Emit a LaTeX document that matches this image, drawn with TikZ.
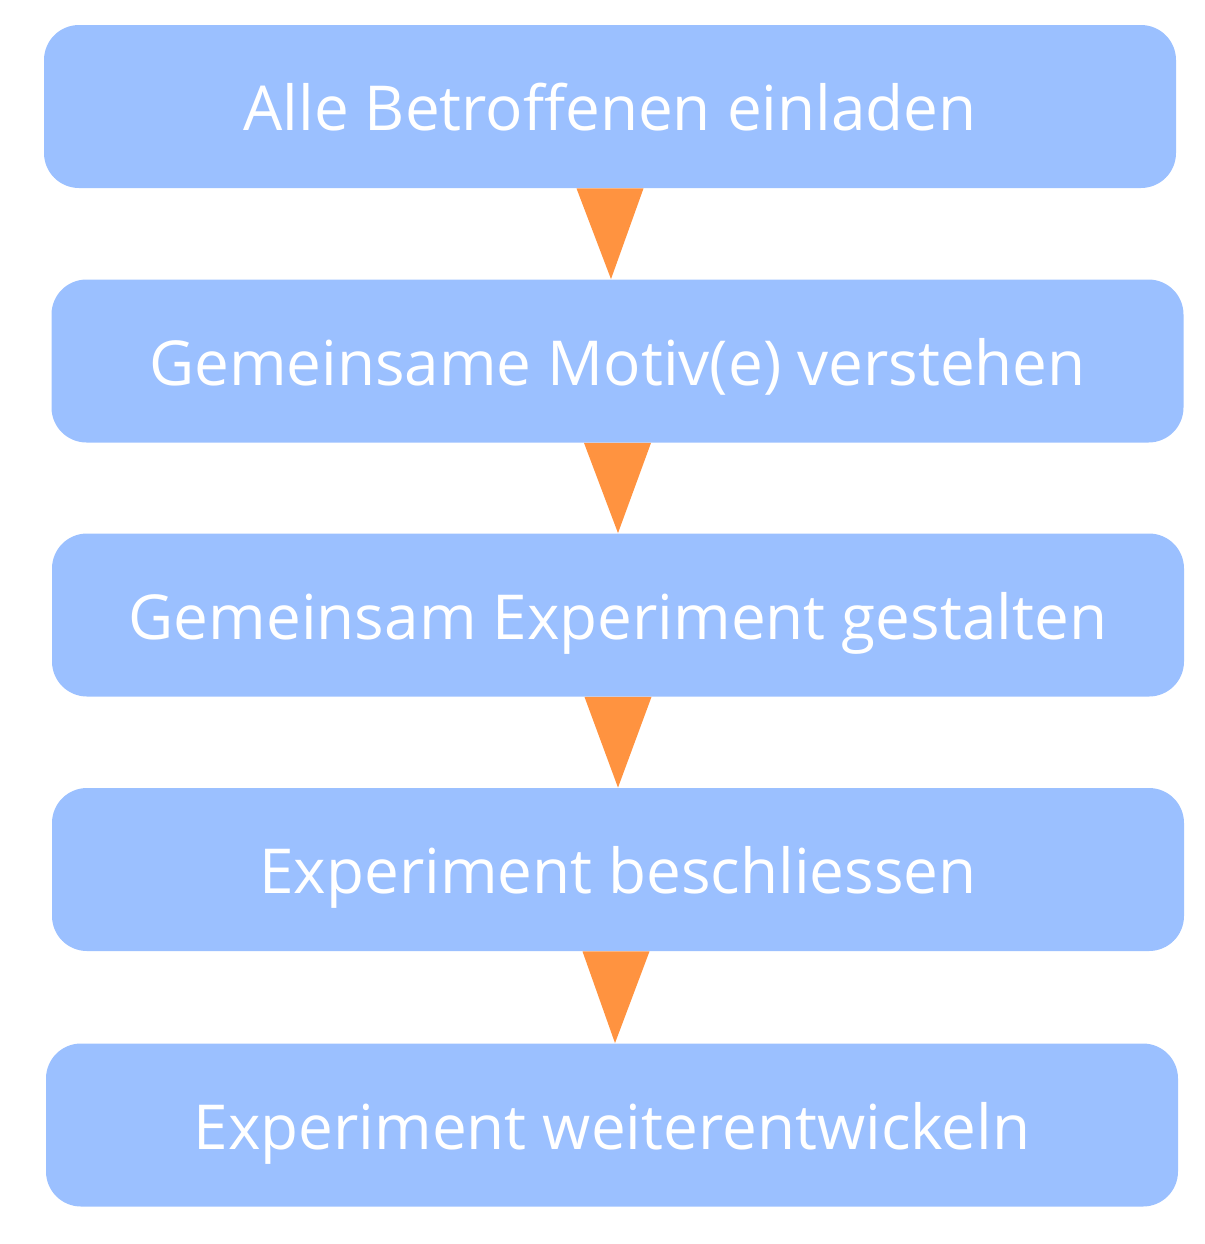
\documentclass[tikz,border=0pt]{standalone}
\usepackage{fontspec}
\setmainfont{Open Sans}
\usetikzlibrary{
		calc,
		positioning
	}
\definecolor{boxblue}{RGB}{155,192,255}
\definecolor{arroworange}{RGB}{255,147,64}
\tikzset{
		>=stealth,
		stepbox/.style={fill=boxblue, rounded corners=17.5pt,
			minimum width=566pt, minimum height=81.5pt,
			text=white, inner sep=0pt, text height=24pt, text depth=0pt,
			font=\fontsize{31}{38}\selectfont},
		flowtri/.style={fill=arroworange}
	}
\begin{document}
\begin{tikzpicture}[x=0.5pt,y=-0.5pt]
          \useasboundingbox (0,0) rectangle (1205,1244);

          \node[stepbox] (invite) at (610,106.5) {Alle Betroffenen einladen};
          \node[stepbox] (motive) at (617.5,361) {Gemeinsame Motiv(e) verstehen};
          \node[stepbox] (design) at (618,615) {Gemeinsam Experiment gestalten};
          \node[stepbox] (decide) at (618,869.5) {Experiment beschliessen};
          \node[stepbox] (evolve) at (612,1125) {Experiment weiterentwickeln};

          % triangles between the steps
          \fill[flowtri] ($(invite.south)+(-33.5,0)$) -- ($(invite.south)+(33.5,0)$) -- ($(motive.north)+(-6.5,0)$) -- cycle;
          \fill[flowtri] ($(motive.south)+(-33.5,0)$) -- ($(motive.south)+(33.5,0)$) -- (design.north) -- cycle;
          \fill[flowtri] ($(design.south)+(-33.5,0)$) -- ($(design.south)+(33.5,0)$) -- (decide.north) -- cycle;
          \fill[flowtri] ($(decide.south)+(-35.5,0)$) -- ($(decide.south)+(31.5,0)$) -- ($(evolve.north)+(3,0)$) -- cycle;

          \end{tikzpicture}
\end{document}
